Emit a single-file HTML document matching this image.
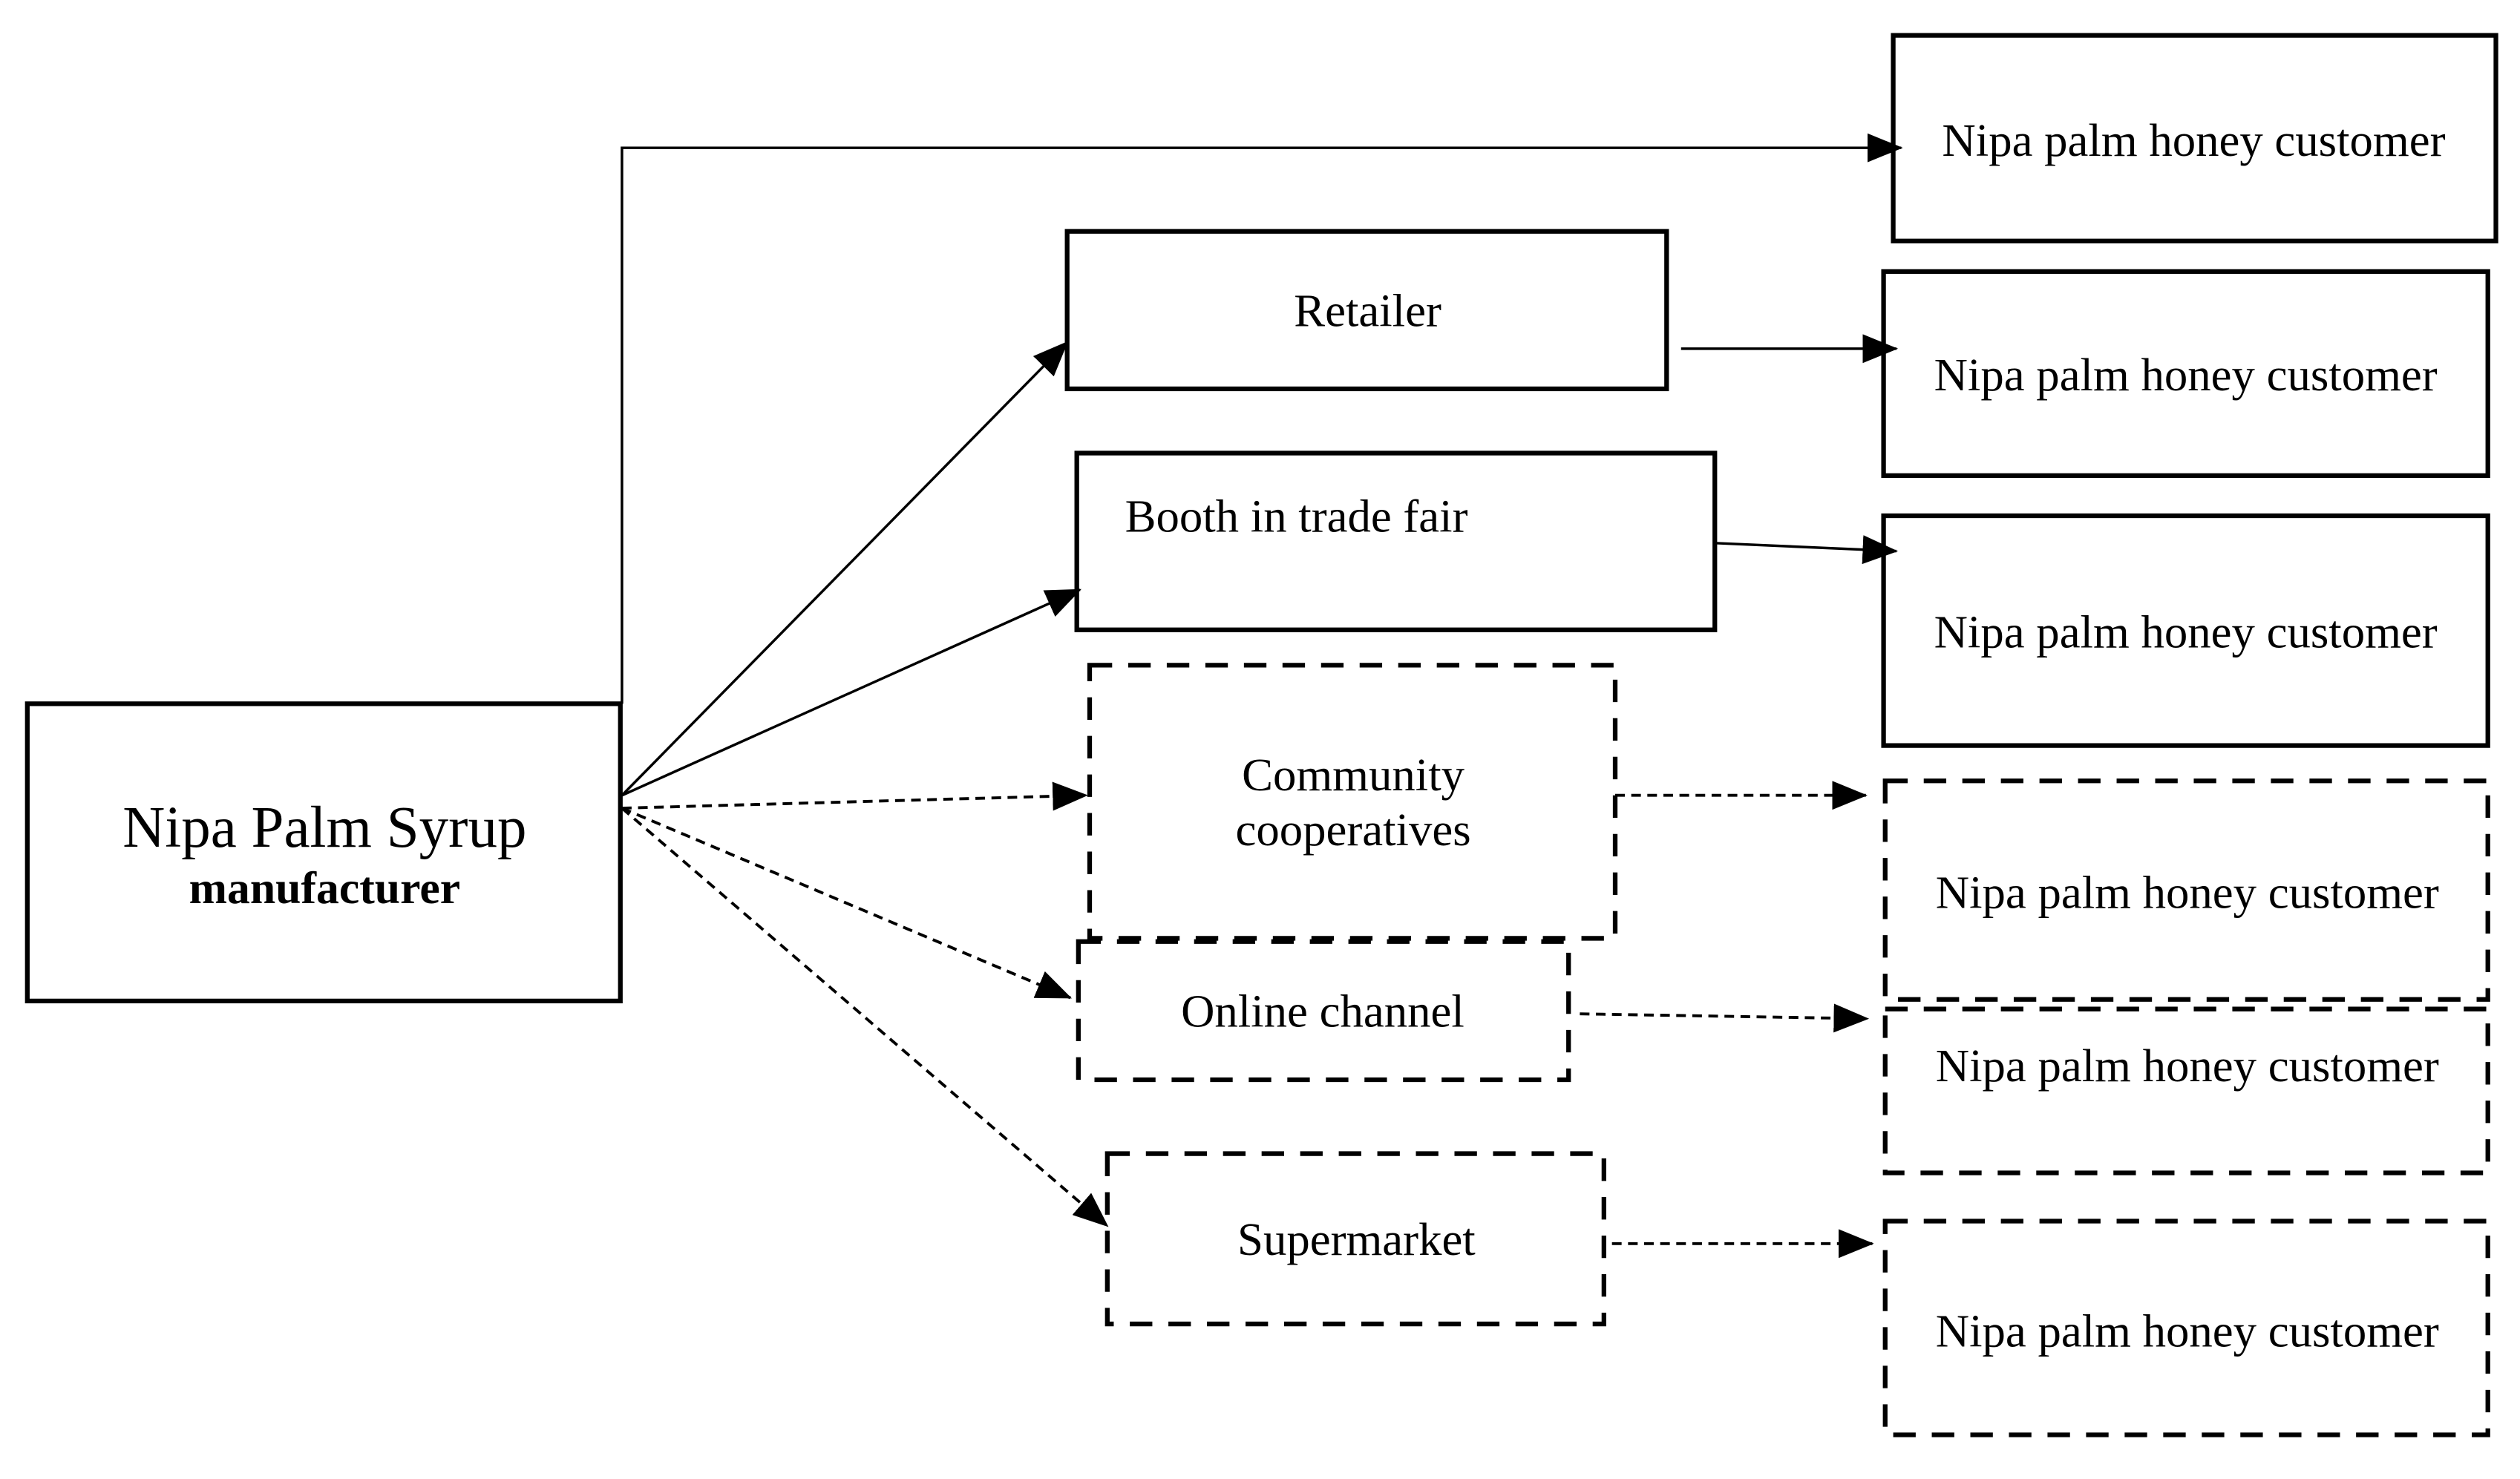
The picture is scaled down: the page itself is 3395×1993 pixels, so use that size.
<!DOCTYPE html>
<html><head><meta charset="utf-8"><style>html,body{margin:0;padding:0;background:#fff}svg{display:block}text{font-family:"Liberation Serif",serif;fill:#000}</style></head>
<body>
<svg width="3395" height="1993" viewBox="0 0 1568 920.5" preserveAspectRatio="none" xmlns="http://www.w3.org/2000/svg">
<defs>
<marker id="b" markerWidth="22" markerHeight="18" refX="21" refY="9" orient="auto" markerUnits="userSpaceOnUse" viewBox="0 0 22 18"><path d="M0,0 L22,9 L0,18 z" fill="#000"/></marker>
</defs>
<g fill="none" stroke="#000" stroke-width="2.9">
<rect x="17" y="438" width="369" height="185"/>
<rect x="1178" y="22" width="375" height="128"/>
<rect x="664" y="144" width="373" height="98"/>
<rect x="1172" y="169" width="376" height="127"/>
<rect x="670" y="282" width="397" height="110"/>
<rect x="1172" y="321" width="376" height="143"/>
</g>
<g fill="none" stroke="#000" stroke-width="2.9" stroke-dasharray="14 10">
<rect x="678" y="414" width="327" height="170"/>
<rect x="1173" y="486" width="375" height="136"/>
<rect x="671" y="586" width="305" height="86"/>
<rect x="1173" y="628" width="375" height="102"/>
<rect x="689" y="718" width="309" height="106"/>
<rect x="1173" y="760" width="375" height="133"/>
</g>
<g fill="none" stroke="#000" stroke-width="1.6" marker-end="url(#b)">
<path d="M387,438 V92 H1183"/>
<path d="M387,495 L664,213"/>
<path d="M387,495 L672,367"/>
<path d="M1046,217 L1180,217"/>
<path d="M1067,338 L1180,343"/>
</g>
<g fill="none" stroke="#000" stroke-width="1.8" stroke-dasharray="6 4" marker-end="url(#b)">
<path d="M387,503 L676,495"/>
<path d="M387,503 L666,621"/>
<path d="M387,503 L689,763"/>
<path d="M1005,495 L1161,495"/>
<path d="M983,631 L1162,634"/>
<path d="M1003,774 L1165,774"/>
</g>
<g font-size="29" text-anchor="middle">
<text x="202" y="527" font-size="36.5">Nipa Palm Syrup</text>
<text x="202" y="562" font-size="28.5" font-weight="bold">manufacturer</text>
<text x="1365" y="97">Nipa palm honey customer</text>
<text x="851" y="203">Retailer</text>
<text x="1360" y="243">Nipa palm honey customer</text>
<text x="700" y="331" text-anchor="start">Booth in trade fair</text>
<text x="1360" y="403">Nipa palm honey customer</text>
<text x="842" y="492">Community</text>
<text x="842" y="526">cooperatives</text>
<text x="1361" y="565">Nipa palm honey customer</text>
<text x="823" y="639">Online channel</text>
<text x="1361" y="673">Nipa palm honey customer</text>
<text x="844" y="781">Supermarket</text>
<text x="1361" y="838">Nipa palm honey customer</text>
</g>
</svg>
</body></html>
